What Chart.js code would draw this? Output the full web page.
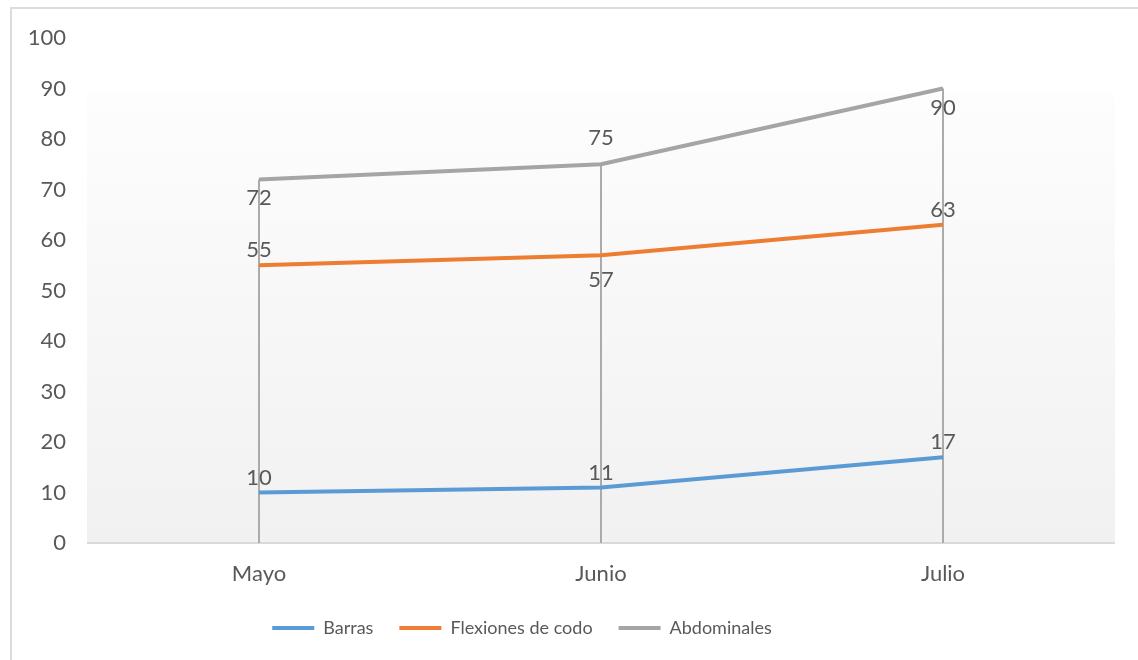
<!DOCTYPE html>
<html lang="es">
<head>
    <meta charset="UTF-8">
    <title>Ejercicios por mes</title>
    <style>
        html, body { margin: 0; padding: 0; background: #fff; overflow: hidden; }
        .frame {
            position: absolute; left: 10px; top: 7px;
            width: 1400px; height: 900px;
            border-top: 2px solid #dcdcdc; border-left: 2px solid #dcdcdc;
        }
        .wrap { position: absolute; left: 0; top: 0; width: 1138px; height: 660px; }
    </style>
</head>
<body>
    <div class="frame"></div>
    <div class="wrap"><canvas id="myChart" width="1138" height="660"></canvas></div>

    <script src="https://cdn.jsdelivr.net/npm/chart.js@4/dist/chart.umd.min.js"></script>
    <script>
        var meses = ['Mayo', 'Junio', 'Julio'];
        var barras = [10, 11, 17];
        var flexiones = [55, 57, 63];
        var abdominales = [72, 75, 90];

        // where each value label sits relative to its point
        var posBarras = ['above', 'above', 'above'];
        var posFlexiones = ['above', 'belowFar', 'above'];
        var posAbdominales = ['below', 'aboveFar', 'below'];
        var labelShift = { above: -15, below: 19, aboveFar: -26, belowFar: 25 };

        var textColor = '#595959';
        var fontFamily = 'Lato, "Noto Sans", sans-serif';

        // light gray gradient behind the plot
        var plotBackground = {
            id: 'plotBackground',
            beforeDraw: function (chart) {
                var a = chart.chartArea, ctx = chart.ctx;
                var y0 = chart.scales.y.getPixelForValue(89);
                var g = ctx.createLinearGradient(0, y0, 0, a.bottom);
                g.addColorStop(0, '#fdfdfd');
                g.addColorStop(1, '#f1f1f1');
                ctx.save();
                ctx.fillStyle = g;
                ctx.fillRect(a.left - 1, y0, a.right - a.left + 2, a.bottom - y0);
                ctx.restore();
            }
        };

        // vertical drop lines from the highest point down to the axis
        var dropLines = {
            id: 'dropLines',
            beforeDatasetsDraw: function (chart) {
                var ctx = chart.ctx, ys = chart.scales.y;
                var metas = chart.getSortedVisibleDatasetMetas();
                ctx.save();
                ctx.strokeStyle = '#ababab';
                ctx.lineWidth = 2;
                meses.forEach(function (m, i) {
                    var top = ys.bottom;
                    metas.forEach(function (meta) {
                        top = Math.min(top, meta.data[i].y);
                    });
                    var x = metas[0].data[i].x;
                    ctx.beginPath();
                    ctx.moveTo(x, top);
                    ctx.lineTo(x, ys.bottom);
                    ctx.stroke();
                });
                ctx.restore();
            }
        };

        // value labels
        var valueLabels = {
            id: 'valueLabels',
            afterDatasetsDraw: function (chart) {
                var ctx = chart.ctx;
                ctx.save();
                ctx.fillStyle = textColor;
                ctx.font = '22px ' + fontFamily;
                ctx.textAlign = 'center';
                ctx.textBaseline = 'middle';
                chart.data.datasets.forEach(function (ds, di) {
                    var meta = chart.getDatasetMeta(di);
                    meta.data.forEach(function (pt, i) {
                        ctx.fillText(String(ds.data[i]), pt.x, pt.y + labelShift[ds.labelPos[i]]);
                    });
                });
                ctx.restore();
            }
        };

        // pull the legend row a bit to the left
        var legendShift = {
            id: 'legendShift',
            afterLayout: function (chart) {
                chart.legend.right -= 70;
            }
        };

        function serie(label, data, color, pos) {
            return {
                label: label,
                data: data,
                borderColor: color,
                backgroundColor: color,
                borderWidth: 4,
                pointRadius: 0,
                pointHoverRadius: 0,
                tension: 0,
                labelPos: pos
            };
        }

        var ctx = document.getElementById('myChart').getContext('2d');
        var myChart = new Chart(ctx, {
            type: 'line',
            data: {
                labels: meses,
                datasets: [
                    serie('Barras', barras, '#5b9bd5', posBarras),
                    serie('Flexiones de codo', flexiones, '#ed7d31', posFlexiones),
                    serie('Abdominales', abdominales, '#a5a5a5', posAbdominales)
                ]
            },
            options: {
                responsive: false,
                animation: false,
                layout: { padding: { top: 38, right: 24, left: 0, bottom: 13 } },
                scales: {
                    x: {
                        offset: true,
                        grid: { display: false, drawTicks: false },
                        border: { color: '#d9d9d9', width: 2 },
                        ticks: { color: textColor, font: { family: fontFamily, size: 22 }, padding: 18 },
                        afterFit: function (scale) { scale.height = 50; }
                    },
                    y: {
                        min: 0,
                        max: 100,
                        grid: { display: false, drawTicks: false },
                        border: { display: false },
                        ticks: { stepSize: 10, color: textColor, font: { family: fontFamily, size: 22 }, padding: 22 },
                        afterFit: function (scale) { scale.width = 88; }
                    }
                },
                plugins: {
                    tooltip: { enabled: false },
                    legend: {
                        position: 'bottom',
                        labels: {
                            color: textColor,
                            font: { family: fontFamily, size: 18 },
                            boxWidth: 42,
                            boxHeight: 4,
                            padding: 26,
                            generateLabels: function (chart) {
                                return chart.data.datasets.map(function (ds, i) {
                                    return {
                                        text: ds.label,
                                        fillStyle: ds.borderColor,
                                        strokeStyle: ds.borderColor,
                                        lineWidth: 0,
                                        fontColor: textColor,
                                        datasetIndex: i
                                    };
                                });
                            }
                        }
                    }
                }
            },
            plugins: [plotBackground, dropLines, valueLabels, legendShift]
        });
    </script>
</body>
</html>
